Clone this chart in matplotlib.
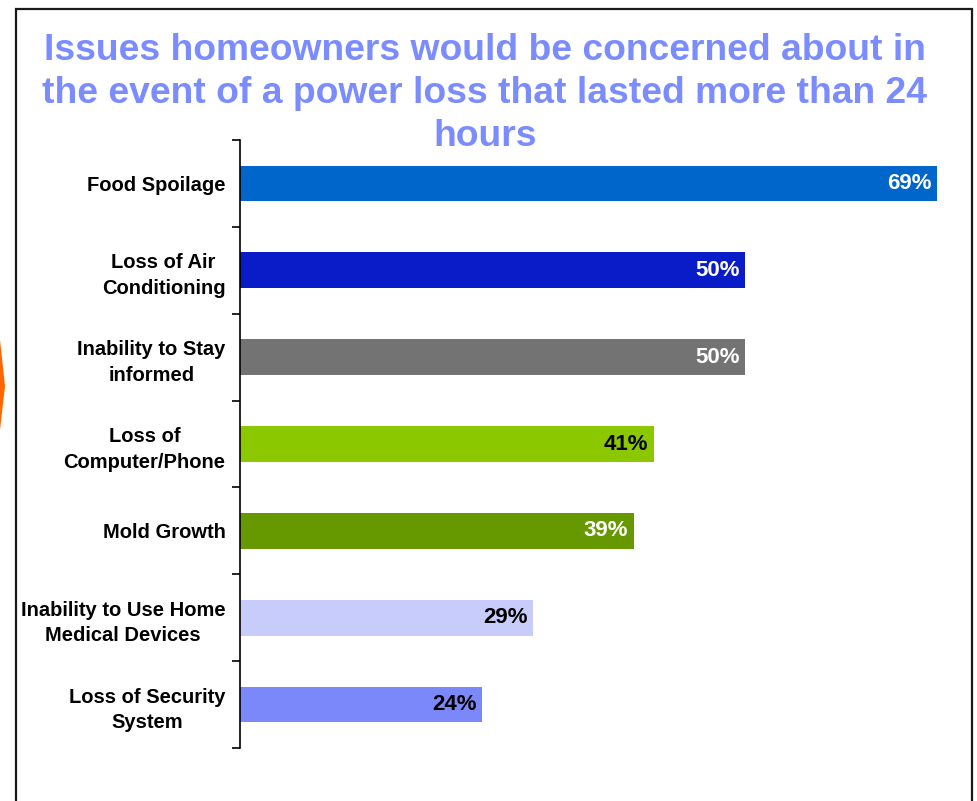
import matplotlib.pyplot as plt
from matplotlib.patches import Rectangle, Polygon

plt.rcParams['font.family'] = ['Liberation Sans', 'DejaVu Sans']

issues = ['Food Spoilage', 'Loss of Air\nConditioning', 'Inability to Stay\ninformed',
          'Loss of\nComputer/Phone', 'Mold Growth',
          'Inability to Use Home\nMedical Devices', 'Loss of Security\nSystem']
pct = [69, 50, 50, 41, 39, 29, 24]
bar_colors = ['#0066CC', '#0A1CC8', '#737373', '#8CC800', '#669900', '#C8CCFA', '#7B88FA']
label_colors = ['white', 'white', 'white', 'black', 'white', 'black', 'black']

W, H = 977, 801
fig = plt.figure(figsize=(W / 100, H / 100), dpi=100)
ax = fig.add_axes([240 / W, 1 - 748 / H, 707 / W, 608 / H])

n = len(issues)
ypos = list(range(n))
ax.barh(ypos, pct, height=0.41, color=bar_colors)
for y, v, c in zip(ypos, pct, label_colors):
    ax.text(v - 0.55, y, f'{v}%', ha='right', va='center', color=c,
            fontsize=16, fontweight='bold')

ax.set_xlim(0, 70)
ax.set_ylim(n - 0.5, -0.5)
ax.set_xticks([])
for s in ['top', 'right', 'bottom']:
    ax.spines[s].set_visible(False)
ax.spines['left'].set_linewidth(1.2)

# ticks at category boundaries, labels centred on bars
ax.set_yticks([i - 0.5 for i in range(n + 1)])
ax.set_yticklabels([])
ax.tick_params(axis='y', which='major', length=6, width=1.2, direction='out')
ax.set_yticks(ypos, minor=True)
ax.set_yticklabels(issues, minor=True, fontsize=14.5, fontweight='bold', linespacing=1.45)
ax.tick_params(axis='y', which='minor', length=0, pad=10.5)
for t in ax.get_yticklabels(minor=True):
    t.set_multialignment('center')

fig.text(485 / W, 1 - 93.5 / H,
         'Issues homeowners would be concerned about in\n'
         'the event of a power loss that lasted more than 24\nhours',
         ha='center', va='center', color='#7B8CFF', fontsize=26.8,
         fontweight='bold', linespacing=1.3)

# slide frame and edge marker
fig.patches.append(Rectangle((16 / W, -0.05), 956 / W, 1.05 - 9 / H,
                             transform=fig.transFigure, fill=False,
                             edgecolor='#1a1a1a', linewidth=1.6))
fig.patches.append(Polygon([(0, 1 - 340 / H), (5 / W, 1 - 386 / H), (0, 1 - 430 / H)],
                           closed=True, transform=fig.transFigure,
                           facecolor='#FF6600', edgecolor='none'))

fig.savefig('out.png', dpi=100)
